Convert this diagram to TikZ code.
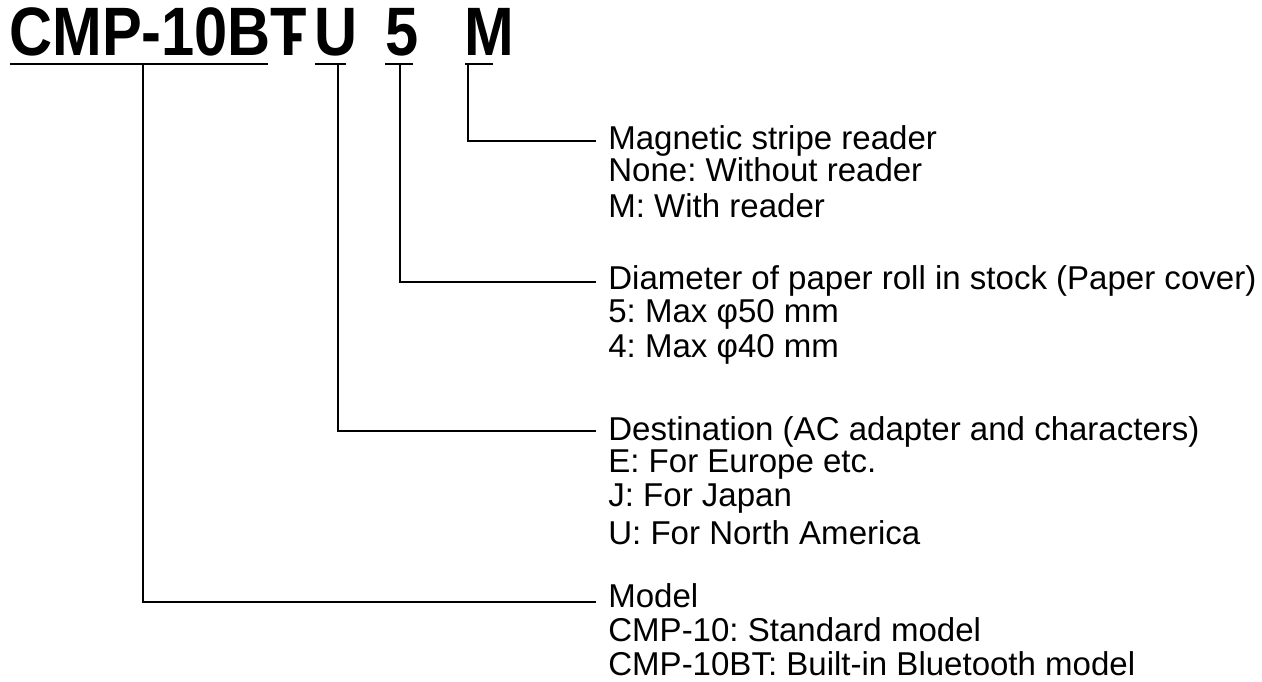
\documentclass[tikz,border=0pt]{standalone}
\usepackage{fontspec}
\setmainfont{Liberation Sans}
\frenchspacing
\begin{document}
\begin{tikzpicture}[x=0.02cm, y=-0.02cm]
	\tikzset{part/.style={anchor=base west, inner sep=0pt, font=\fontsize{39}{39}\bfseries},
		item/.style={anchor=base west, inner sep=0pt, font=\fontsize{18.8}{20}\selectfont},
		lead/.style={line width=1.1pt}}
	\useasboundingbox (0,0) rectangle (1262,681);
	\node[part] at (9,55) (model) {\scalebox{0.87}[1]{CMP-10BT}};
	\node[part] at (284,55) (dash) {\scalebox{0.87}[1]{-}};
	\node[part] at (314,55) (dest) {\scalebox{0.87}[1]{U}};
	\node[part] at (385,55) (dia) {\scalebox{0.87}[1]{5}};
	\node[part] at (464,55) (mag) {\scalebox{0.87}[1]{M}};
	\draw[lead] (10,64) -- (268,64);
	\draw[lead] (315,64) -- (346,64);
	\draw[lead] (385,64) -- (413,64);
	\draw[lead] (465,64) -- (493,64);
	\coordinate (cm) at (143,64);
	\coordinate (cu) at (338,64);
	\coordinate (c5) at (400,64);
	\coordinate (cM) at (468,64);
	\coordinate (eM) at (596,141);
	\coordinate (e5) at (596,282);
	\coordinate (eu) at (596,431);
	\coordinate (em) at (596,602);
	\draw[lead] (cM) |- (eM);
	\draw[lead] (c5) |- (e5);
	\draw[lead] (cu) |- (eu);
	\draw[lead] (cm) |- (em);
	% texts
	\node[item] at (608,149) (tM1) {Magnetic stripe reader};
	\node[item] at (608,181) (tM2) {None: Without reader};
	\node[item] at (608,217) (tM3) {M: With reader};
	\node[item] at (608,289) (t51) {Diameter of paper roll in stock (Paper cover)};
	\node[item] at (608,322) (t52) {5: Max φ50 mm};
	\node[item] at (608,357) (t53) {4: Max φ40 mm};
	\node[item] at (608,440) (tu1) {Destination (AC adapter and characters)};
	\node[item] at (608,472) (tu2) {E: For Europe etc.};
	\node[item] at (608,506) (tu3) {J: For Japan};
	\node[item] at (608,544) (tu4) {U: For North America};
	\node[item] at (608,607) (tm1) {Model};
	\node[item] at (608,641) (tm2) {CMP-10: Standard model};
	\node[item] at (608,675) (tm3) {CMP-10BT: Built-in Bluetooth model};
\end{tikzpicture}
\end{document}
